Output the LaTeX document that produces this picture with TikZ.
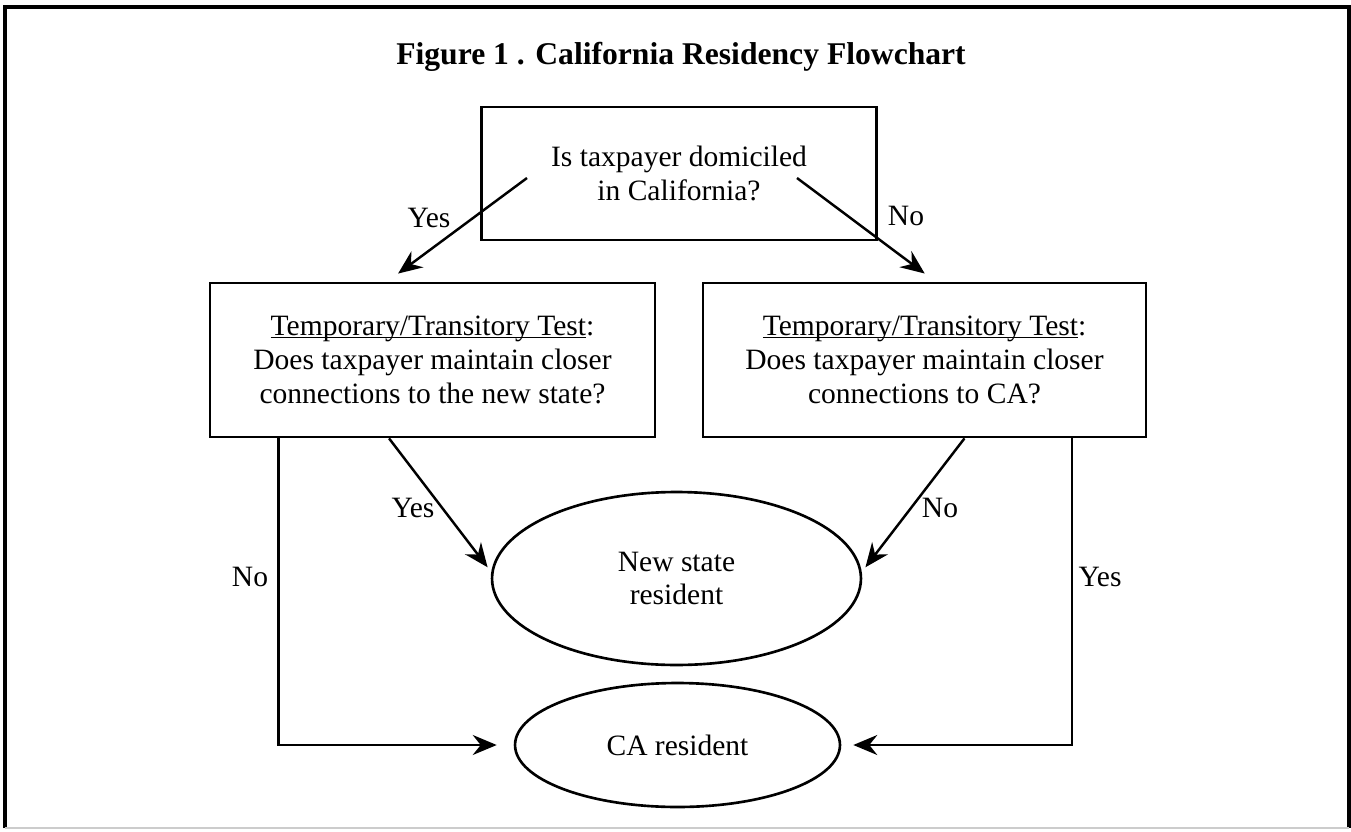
\documentclass[tikz,border=0pt]{standalone}
\usepackage{fontspec}
\setmainfont{Liberation Serif}
\usetikzlibrary{shapes.geometric}
\usetikzlibrary{arrows.meta}
\newsavebox\ulbox
\newcommand\testul[1]{\sbox\ulbox{#1}\rlap{\rule[-1.5pt]{\wd\ulbox}{0.7pt}}\usebox\ulbox}

\begin{document}
\begin{tikzpicture}[x=0.02cm,y=-0.02cm,
  txt/.style={font=\fontsize{16.8}{19.3}\selectfont},
  qbox/.style={txt,draw,line width=1.6pt,align=center,inner sep=0pt},
  endst/.style={txt,draw,ellipse,line width=1.5pt,align=center,inner sep=0pt},
  flow/.style={line width=1.4pt,-{Stealth[length=4.8mm,width=4mm,inset=1.6mm]}},
  lbl/.style={txt,inner sep=0pt}]

\useasboundingbox (0,0) rectangle (1351,831);

\coordinate (T) at (681,57);
\coordinate (Q) at (679,173.5);
\coordinate (L) at (432.5,360);
\coordinate (R) at (924.5,360);
\coordinate (N) at (676.5,578.5);
\coordinate (C) at (677.5,745);
\coordinate (yesTop) at (527,178);
\coordinate (noTop) at (797,178);

\draw[line width=1.8pt] (5,828) -- (5,7) -- (1349,7) -- (1349,828);
\draw[gray!40, line width=0.8pt] (5,828) -- (1349,828);

\node[font=\fontsize{18}{21}\selectfont\bfseries] (title) at (T) {Figure 1 . California Residency Flowchart};

\node[qbox, minimum width=7.9cm, minimum height=2.66cm] (dom) at (Q) {Is taxpayer domiciled\\in California?};
\node[qbox, minimum width=8.9cm, minimum height=3.08cm] (ttnew) at (L) {\testul{Temporary/Transitory Test}:\\Does taxpayer maintain closer\\connections to the new state?};
\node[qbox, minimum width=8.86cm, minimum height=3.08cm] (ttca) at (R) {\testul{Temporary/Transitory Test}:\\Does taxpayer maintain closer\\connections to CA?};
\node[endst, minimum width=7.38cm, minimum height=3.46cm] (newres) at (N) {New state\\resident};
\node[endst, minimum width=6.5cm, minimum height=2.48cm] (cares) at (C) {CA resident};

\draw[flow, shorten >=2.7mm] (yesTop) -- (ttnew.120);
\draw[flow, shorten >=2.7mm] (noTop) -- (ttca.82);
\draw[flow, shorten >=1.2mm] (ttnew.-119) -- (newres.178);
\draw[flow, shorten >=1.2mm] (ttca.-63) -- (newres.2);
\draw[flow, shorten >=3.4mm] (ttnew.-153) |- (cares.west);
\draw[flow, shorten >=2.4mm] (ttca.-28) |- (cares.east);

\node[lbl] (yes1) at (429,218) {Yes};
\node[lbl] (no1) at (906,216) {No};
\node[lbl] (yes2) at (413,508) {Yes};
\node[lbl] (no2) at (940,508) {No};
\node[lbl] (no3) at (250,577) {No};
\node[lbl] (yes3) at (1100,577) {Yes};

\end{tikzpicture}
\end{document}
